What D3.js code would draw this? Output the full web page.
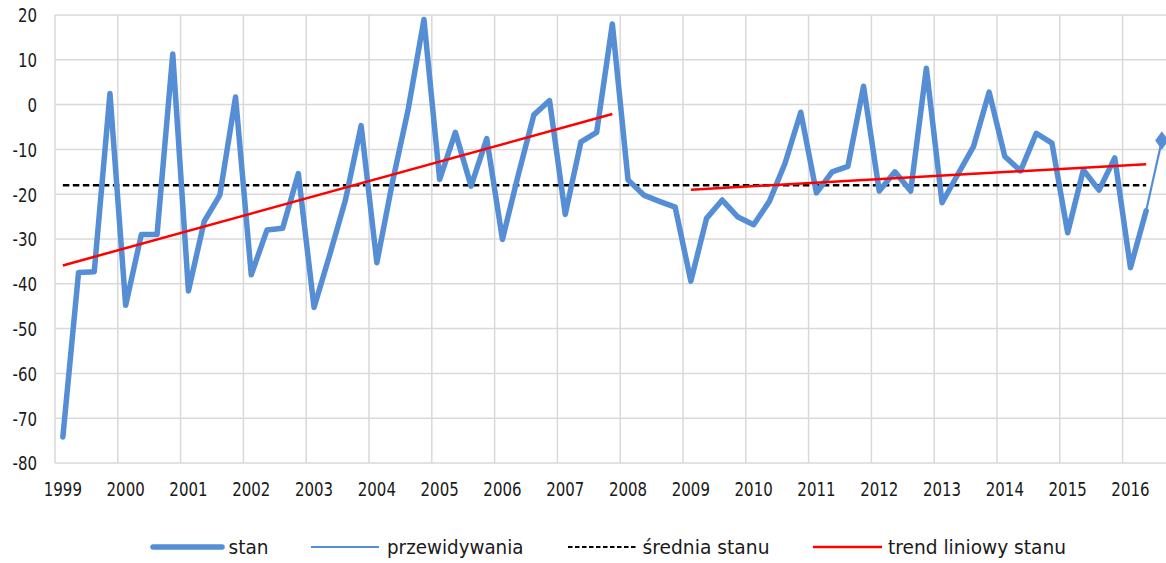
<!DOCTYPE html>
<html>
<head>
<meta charset="utf-8">
<script src="https://cdn.jsdelivr.net/npm/d3@7"></script>
<style>
  html, body { margin: 0; padding: 0; background: #fff; }
  svg { display: block; font-family: "DejaVu Sans", Verdana, sans-serif; }
</style>
</head>
<body>
<svg id="chart" width="1166" height="563"></svg>
<script>
// ---- data ----
const years = [1999, 2000, 2001, 2002, 2003, 2004, 2005, 2006, 2007, 2008,
               2009, 2010, 2011, 2012, 2013, 2014, 2015, 2016];
const quarters = ["I", "II", "III", "IV"];
const stan = [
  -74.2, -37.5, -37.3, 2.5,
  -44.8, -29, -29, 11.3,
  -41.6, -26.1, -20.2, 1.7,
  -38, -28, -27.6, -15.4,
  -45.3, -33.5, -21.3, -4.7,
  -35.3, -17.2, -1, 19,
  -16.7, -6.2, -18.2, -7.6,
  -30.1, -15.8, -2.3, 0.9,
  -24.5, -8.3, -6.2, 18,
  -16.8, -20.2, -21.6, -22.9,
  -39.4, -25.4, -21.3, -25.1,
  -26.8, -21.6, -13.1, -1.7,
  -19.7, -15, -13.8, 4.1,
  -19.3, -15, -19.3, 8.1,
  -21.9, -15.6, -9.4, 2.8,
  -11.6, -14.8, -6.4, -8.6,
  -28.6, -14.6, -19.1, -11.9,
  -36.4, -23.7
];
const przewidywaniaStart = 69;            // category index where forecast starts
const przewidywania = [-23.7, -8];        // 2016 II -> 2016 III
const sredniaStanu = -18;
const trend1Idx = [0, 35];
const trend1Val = [-35.9, -2.1];
const trend2Idx = [40, 69];
const trend2Val = [-19.0, -13.3];
const yTicks = [-80, -70, -60, -50, -40, -30, -20, -10, 0, 10, 20];
const legendLabels = ["stan", "przewidywania", "średnia stanu", "trend liniowy stanu"];

(function () {
// categories: quarters of each year, up to the forecast point
const categories = [];
years.forEach(yr => quarters.forEach(q => categories.push(yr + " " + q)));
const nCat = stan.length + 1;

// ---- layout ----
const svg = d3.select("#chart");
const pLeft = 55, pTop = 15, pBottom = 463;
const bw = 15.7;
const pRight = pLeft + bw * nCat;

const x = d3.scaleBand().domain(d3.range(nCat)).range([pLeft, pRight]).paddingInner(0).paddingOuter(0);
const xc = i => x(i) + x.bandwidth() / 2;
const y = d3.scaleLinear().domain([-80, 20]).range([pBottom, pTop]);

const gridColor = "#d9d9d9";

// horizontal grid
svg.append("g").selectAll("line").data(yTicks).join("line")
  .attr("x1", pLeft).attr("x2", pRight)
  .attr("y1", d => y(d)).attr("y2", d => y(d))
  .attr("stroke", gridColor).attr("stroke-width", 1.5);

// vertical grid at year boundaries
const vIdx = d3.range(0, nCat, 4);
svg.append("g").selectAll("line").data(vIdx).join("line")
  .attr("x1", d => x(d)).attr("x2", d => x(d))
  .attr("y1", pTop).attr("y2", pBottom)
  .attr("stroke", gridColor).attr("stroke-width", 1.5);

// y axis
const yAxis = svg.append("g").attr("transform", `translate(${pLeft},0)`)
  .call(d3.axisLeft(y).tickValues(yTicks).tickSize(0).tickFormat(d => String(d)));
yAxis.select(".domain").remove();
yAxis.selectAll("text")
  .attr("x", null).attr("dy", null)
  .attr("transform", "translate(-18,6.8) scale(0.79,1)")
  .attr("text-anchor", "end")
  .attr("font-size", 19).attr("fill", "#1a1a1a")
  .attr("font-family", "DejaVu Sans, Verdana, sans-serif");

// x axis
const xAxis = svg.append("g").attr("transform", `translate(0,${pBottom})`)
  .call(d3.axisBottom(x).tickValues(vIdx).tickSize(0).tickFormat(i => years[i / 4]));
xAxis.select(".domain").remove();
xAxis.selectAll("text")
  .attr("y", null).attr("dy", null)
  .attr("transform", "translate(0,33) scale(0.79,1)")
  .attr("text-anchor", "middle")
  .attr("font-size", 19).attr("fill", "#1a1a1a")
  .attr("font-family", "DejaVu Sans, Verdana, sans-serif");

const blue = "#558ed5";

// mean line
svg.append("line")
  .attr("x1", xc(0)).attr("x2", xc(stan.length - 1))
  .attr("y1", y(sredniaStanu)).attr("y2", y(sredniaStanu))
  .attr("stroke", "#000").attr("stroke-width", 2.5)
  .attr("stroke-dasharray", "6.5,3.5");

// stan line
const line = d3.line().x(d => xc(d.i)).y(d => y(d.v));
svg.append("path")
  .datum(stan.map((v, i) => ({ i, v })))
  .attr("d", line)
  .attr("fill", "none").attr("stroke", blue)
  .attr("stroke-width", 5.5).attr("stroke-linejoin", "round").attr("stroke-linecap", "round");

// forecast
const fc = przewidywania.map((v, k) => ({ i: przewidywaniaStart + k, v }));
svg.append("path").datum(fc).attr("d", line)
  .attr("fill", "none").attr("stroke", blue).attr("stroke-width", 2.2);
const last = fc[fc.length - 1];
svg.append("path")
  .attr("d", d3.symbol().type(d3.symbolDiamond).size(100)())
  .attr("transform", `translate(${xc(last.i)},${y(last.v)}) scale(1.25,1)`)
  .attr("fill", blue);

// trend lines
[[trend1Idx, trend1Val], [trend2Idx, trend2Val]].forEach(([idx, val]) => {
  svg.append("path")
    .datum(idx.map((i, k) => ({ i, v: val[k] })))
    .attr("d", line)
    .attr("fill", "none").attr("stroke", "#ff0000").attr("stroke-width", 2.5);
});

// legend
const ly = 547;
const legendItems = [
  { x1: 153, x2: 222, tx: 228.5, tw: 40, stroke: blue, sw: 5.5, dash: null },
  { x1: 311, x2: 379, tx: 387, tw: 136.5, stroke: blue, sw: 2.2, dash: null },
  { x1: 568, x2: 636, tx: 642.5, tw: 127, stroke: "#000", sw: 2.2, dash: "4.5,2.5" },
  { x1: 813, x2: 882, tx: 888, tw: 178, stroke: "#ff0000", sw: 2.5, dash: null }
];
const lg = svg.append("g");
legendItems.forEach((it, k) => {
  lg.append("line")
    .attr("x1", it.x1).attr("x2", it.x2).attr("y1", ly).attr("y2", ly)
    .attr("stroke", it.stroke).attr("stroke-width", it.sw)
    .attr("stroke-linecap", k === 0 ? "round" : "butt")
    .attr("stroke-dasharray", it.dash);
  lg.append("text")
    .attr("x", it.tx).attr("y", ly + 6.5)
    .attr("font-size", 19).attr("fill", "#1a1a1a")
    .attr("textLength", it.tw).attr("lengthAdjust", "spacingAndGlyphs")
    .text(legendLabels[k]);
});
})();
</script>
</body>
</html>
